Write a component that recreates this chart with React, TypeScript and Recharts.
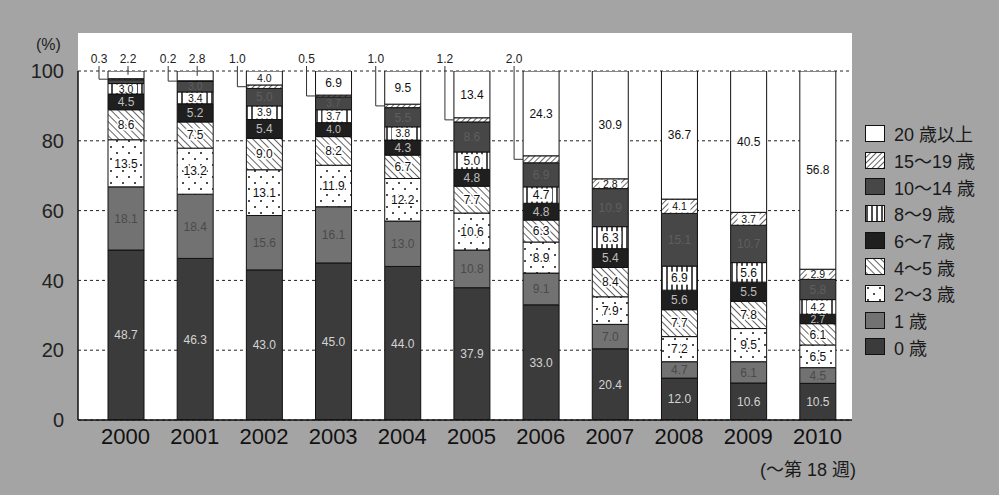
import React from "react";
import { BarChart, Bar, XAxis, YAxis, CartesianGrid, LabelList } from "recharts";

// 年齢群別の割合 (%), 2000〜2010年
const years = ["2000", "2001", "2002", "2003", "2004", "2005", "2006", "2007", "2008", "2009", "2010"];
const age0 = [48.7, 46.3, 43.0, 45.0, 44.0, 37.9, 33.0, 20.4, 12.0, 10.6, 10.5];
const age1 = [18.1, 18.4, 15.6, 16.1, 13.0, 10.8, 9.1, 7.0, 4.7, 6.1, 4.5];
const age2to3 = [13.5, 13.2, 13.1, 11.9, 12.2, 10.6, 8.9, 7.9, 7.2, 9.5, 6.5];
const age4to5 = [8.6, 7.5, 9.0, 8.2, 6.7, 7.7, 6.3, 8.4, 7.7, 7.8, 6.1];
const age6to7 = [4.5, 5.2, 5.4, 4.0, 4.3, 4.8, 4.8, 5.4, 5.6, 5.5, 2.7];
const age8to9 = [3.0, 3.4, 3.9, 3.7, 3.8, 5.0, 4.7, 6.3, 6.9, 5.6, 4.2];
const age10to14 = [1.1, 3.0, 5.0, 3.7, 5.5, 8.6, 6.9, 10.9, 15.1, 10.7, 5.8];
const age15to19 = [0.3, 0.2, 1.0, 0.5, 1.0, 1.2, 2.0, 2.8, 4.1, 3.7, 2.9];
const age20plus = [2.2, 2.8, 4.0, 6.9, 9.5, 13.4, 24.3, 30.9, 36.7, 40.5, 56.8];
const yTicks = [0, 20, 40, 60, 80, 100];

const data = years.map((year, i) => ({
  year,
  a0: age0[i],
  a1: age1[i],
  a2: age2to3[i],
  a4: age4to5[i],
  a6: age6to7[i],
  a8: age8to9[i],
  a10: age10to14[i],
  a15: age15to19[i],
  a20: age20plus[i],
}));

type Mode = "inside" | "callLeft" | "callTop";
type Backing = "none" | "box" | "halo";

// stacking order bottom -> top
const series: { key: string; name: string; fill: string; text: string; back: Backing; mode: (i: number) => Mode }[] = [
  { key: "a0", name: "0 歳", fill: "#3b3b3b", text: "#d4d4d4", back: "none", mode: () => "inside" },
  { key: "a1", name: "1 歳", fill: "#727272", text: "#4a4a4a", back: "none", mode: () => "inside" },
  { key: "a2", name: "2〜3 歳", fill: "url(#dots)", text: "#111", back: "halo", mode: () => "inside" },
  { key: "a4", name: "4〜5 歳", fill: "url(#hatchBack)", text: "#111", back: "halo", mode: () => "inside" },
  { key: "a6", name: "6〜7 歳", fill: "#1f1f1f", text: "#bdbdbd", back: "none", mode: () => "inside" },
  { key: "a8", name: "8〜9 歳", fill: "url(#vlines)", text: "#111", back: "box", mode: () => "inside" },
  { key: "a10", name: "10〜14 歳", fill: "#474747", text: "#5e5e5e", back: "none", mode: () => "inside" },
  { key: "a15", name: "15〜19 歳", fill: "url(#hatchFwd)", text: "#111", back: "box", mode: (i) => (i <= 6 ? "callLeft" : "inside") },
  { key: "a20", name: "20 歳以上", fill: "#ffffff", text: "#111", back: "none", mode: (i) => (i <= 1 ? "callTop" : "inside") },
];

const FONT = "'Liberation Sans', Arial, 'Noto Sans CJK JP', sans-serif";

function makeLabel(text: string, back: Backing, mode: (i: number) => Mode) {
  return (props: any) => {
    const { x, y, width, height, value, index } = props;
    const m = mode(index);
    const label = Number(value).toFixed(1);
    if (m === "callLeft") {
      const lx = x - 9;
      const my = y + height / 2;
      return (
        <g>
          <text x={lx} y={63} textAnchor="middle" fontSize={12} fill="#222" fontFamily={FONT}>{label}</text>
          <polyline points={`${lx},66 ${lx},${my} ${x},${my}`} fill="none" stroke="#333" strokeWidth={1} />
        </g>
      );
    }
    if (m === "callTop") {
      const cx = x + width / 2 + 2;
      return (
        <g>
          <text x={cx} y={63} textAnchor="middle" fontSize={12} fill="#222" fontFamily={FONT}>{label}</text>
          <line x1={cx} y1={66} x2={cx} y2={y + height / 2} stroke="#333" strokeWidth={1} />
        </g>
      );
    }
    if (height < 9) return null;
    const cx = x + width / 2;
    const cy = y + height / 2;
    // smaller text in thin segments so neighbouring labels do not collide
    const fs = height < 15 ? 10.5 : 12;
    return (
      <g>
        {back === "box" && (
          <rect x={cx - 11} y={cy - Math.min(6.5, height / 2 - 1)} width={22} height={Math.min(13, height - 2)} fill="#fff" />
        )}
        <text x={cx} y={cy} dy="0.36em" textAnchor="middle" fontSize={fs} fill={text} fontFamily={FONT}
          stroke={back === "halo" ? "#fff" : "none"} strokeWidth={back === "halo" ? 3 : 0}
          style={{ paintOrder: "stroke" }}>{label}</text>
      </g>
    );
  };
}

function Patterns() {
  return (
    <svg width={0} height={0} style={{ position: "absolute" }}>
      <defs>
        <pattern id="hatchFwd" width={4} height={4} patternUnits="userSpaceOnUse" patternTransform="rotate(45)">
          <rect width={4} height={4} fill="#fff" />
          <line x1={0} y1={0} x2={0} y2={4} stroke="#111" strokeWidth={1.3} />
        </pattern>
        <pattern id="hatchBack" width={5} height={5} patternUnits="userSpaceOnUse" patternTransform="rotate(-45)">
          <rect width={5} height={5} fill="#fff" />
          <line x1={0} y1={0} x2={0} y2={5} stroke="#111" strokeWidth={1.3} />
        </pattern>
        <pattern id="vlines" width={5} height={5} patternUnits="userSpaceOnUse">
          <rect width={5} height={5} fill="#fff" />
          <line x1={2} y1={0} x2={2} y2={5} stroke="#111" strokeWidth={1.5} />
        </pattern>
        <pattern id="dots" width={12} height={12} patternUnits="userSpaceOnUse">
          <rect width={12} height={12} fill="#fff" />
          <circle cx={3} cy={3} r={1} fill="#111" />
          <circle cx={9} cy={9} r={1} fill="#111" />
        </pattern>
      </defs>
    </svg>
  );
}

function LegendBox() {
  const items = [...series].reverse();
  return (
    <div style={{ position: "absolute", left: 865, top: 120 }}>
      {items.map((s) => (
        <div key={s.key} style={{ display: "flex", alignItems: "center", height: 26.7 }}>
          <svg width={20} height={17} style={{ marginRight: 9 }}>
            <rect x={0.5} y={0.5} width={19} height={16} fill={s.fill} stroke="#111" strokeWidth={1} />
          </svg>
          <span style={{ fontSize: 18, color: "#1a1a1a", fontFamily: FONT, whiteSpace: "nowrap" }}>{s.name}</span>
        </div>
      ))}
    </div>
  );
}

export default function App() {
  return (
    <div style={{ position: "absolute", left: 0, top: 0, width: 999, height: 495, background: "#a4a4a4", overflow: "hidden" }}>
      <Patterns />
      <div style={{ position: "absolute", left: 78, top: 33, width: 774, height: 387, background: "#fff" }} />
      <div style={{ position: "absolute", left: 36, top: 36, fontSize: 16, color: "#222", fontFamily: FONT }}>(%)</div>
      <BarChart width={999} height={495} data={data} margin={{ top: 71, right: 147, bottom: 0, left: 18 }}
        style={{ position: "absolute", left: 0, top: 0 }}>
        <CartesianGrid vertical={false} strokeDasharray="3 3" stroke="#222" />
        <XAxis dataKey="year" height={75} padding={{ left: 13, right: 0 }} tickLine={false} tickSize={0} tickMargin={8}
          axisLine={{ stroke: "#111", strokeWidth: 1.5 }} interval={0}
          tick={{ fontSize: 22, fill: "#111", fontFamily: FONT }} />
        <YAxis domain={[0, 100]} ticks={yTicks} width={60} tickLine={false} tickMargin={8} allowDataOverflow
          axisLine={{ stroke: "#111", strokeWidth: 1.5 }}
          tick={{ fontSize: 20, fill: "#222", fontFamily: FONT }} />
        {series.map((s) => (
          <Bar key={s.key} dataKey={s.key} name={s.name} stackId="age" fill={s.fill} stroke="#111"
            strokeWidth={1} barSize={36} isAnimationActive={false}>
            <LabelList dataKey={s.key} content={makeLabel(s.text, s.back, s.mode)} />
          </Bar>
        ))}
      </BarChart>
      <LegendBox />
      <div style={{ position: "absolute", left: 760, top: 455, fontSize: 18, color: "#1a1a1a", fontFamily: FONT }}>(〜第 18 週)</div>
    </div>
  );
}
